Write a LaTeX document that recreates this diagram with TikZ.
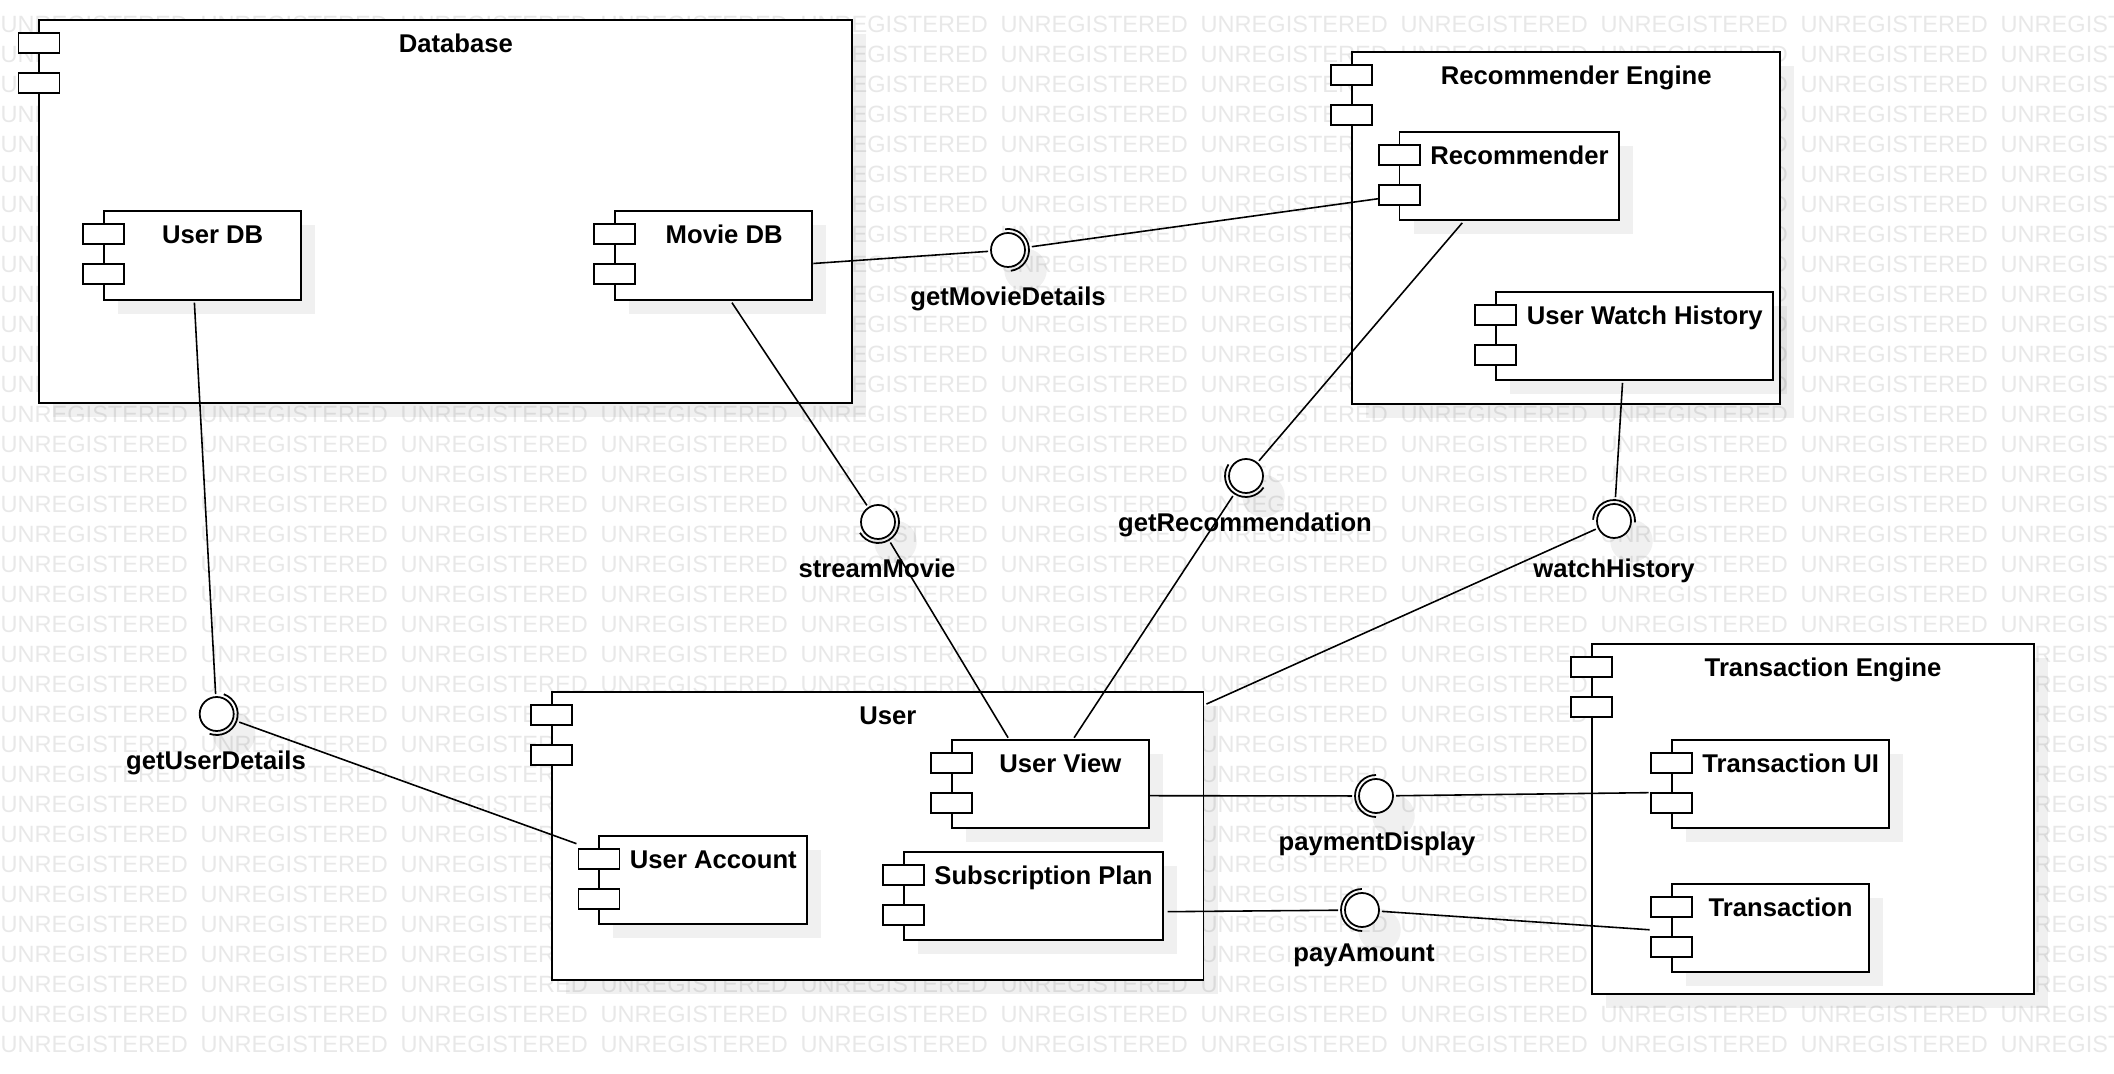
\documentclass[tikz,border=0pt]{standalone}
\usepackage{fontspec}
\setmainfont{Liberation Sans}
\usetikzlibrary{calc}
\usetikzlibrary{shadows}

\pgfdeclarelayer{background}
\pgfsetlayers{background,main}

% component box: name, centre, width, height, title
\newcommand{\umlcomp}[5]{%
  \node[comp, minimum width=#3*0.1mm, minimum height=#4*0.1mm] (#1) at (#2) {};
  \draw[tabbox] ($(#1.north west)+(-20,14)$) rectangle ++(41,20);
  \draw[tabbox] ($(#1.north west)+(-20,54)$) rectangle ++(41,20);
  \node[comptitle] (#1-t) at ($(#1.north)+(10.25,33.5)$) {#5};
}
% socket of an interface, turned towards the part that needs it
\newcommand{\socket}[2]{%
  \draw[sock] let \p1=($(#2)-(#1.center)$), \n1={atan2(\y1,\x1)} in
    ($(#1.center)+(\n1+90:2.1mm)$) arc[start angle=\n1+90, delta angle=-180, radius=2.1mm];%
}

\begin{document}
\begin{tikzpicture}[x=0.1mm, y=-0.1mm,
  comp/.style={draw, fill=white, line width=0.55pt, inner sep=0pt,
    drop shadow={shadow xshift=1.4mm, shadow yshift=-1.4mm, fill=black, opacity=0.06}},
  tabbox/.style={draw, fill=white, line width=0.55pt},
  comptitle/.style={anchor=base, inner sep=0pt, font=\fontsize{7.3}{9}\selectfont\bfseries},
  ball/.style={circle, draw, fill=white, line width=0.5pt, minimum size=3.4mm,
    inner sep=0pt, outer sep=0.3mm,
    drop shadow={shadow xshift=1.4mm, shadow yshift=-1.6mm, shadow scale=1.25, fill=black, opacity=0.06}},
  sock/.style={line width=0.5pt},
  wire/.style={line width=0.45pt},
  iflabel/.style={anchor=base, inner sep=0pt, font=\fontsize{7.3}{9}\selectfont\bfseries},
  wmark/.style={anchor=base west, inner sep=0pt, text=black!9, font=\fontsize{6.7}{8}\selectfont}]

\useasboundingbox (0,0) rectangle (2114,1074);

\begin{pgfonlayer}{background}
  \begin{scope}
    \clip (0,0) rectangle (2114,1074);
    \foreach \row in {0,...,34}
      \foreach \col in {0,...,10}
        \node[wmark] (wm-\row-\col) at (\col*200, 32.5+\row*30) {UNREGISTERED};
  \end{scope}
\end{pgfonlayer}

% containers and their parts
\umlcomp{db}{445.6,211.6}{812.3}{383.3}{Database}
\umlcomp{udb}{202.4,255.5}{197.4}{88.4}{User DB}
\umlcomp{mdb}{713.9,255.5}{197}{88.4}{Movie DB}

\umlcomp{re}{1566,227.8}{428}{351.7}{Recommender Engine}
\umlcomp{rec}{1509.2,175.8}{219.4}{88.3}{Recommender}
\umlcomp{uwh}{1634.5,336}{277}{88}{User Watch History}

\umlcomp{user}{877.6,836}{651.8}{288}{User}
\umlcomp{uv}{1050.1,783.7}{197}{88}{User View}
\umlcomp{ua}{703.1,879.8}{207.3}{88.3}{User Account}
\umlcomp{sp}{1033.2,895.7}{259}{88}{Subscription Plan}

\umlcomp{te}{1812.8,818.8}{442.3}{349.7}{Transaction Engine}
\umlcomp{tui}{1780.4,783.8}{217.6}{88.3}{Transaction UI}
\umlcomp{tx}{1770.3,927.8}{197.4}{87.7}{Transaction}

% interfaces
\node[ball] (gmd) at (1008,250) {};
\node[ball] (sm) at (878,522) {};
\node[ball] (grec) at (1246,476) {};
\node[ball] (wh) at (1614,521) {};
\node[ball] (gud) at (216.7,714) {};
\node[ball] (pd) at (1376,796) {};
\node[ball] (pa) at (1362,910) {};

\node[iflabel] (gmd-l) at (1008,306) {getMovieDetails};
\node[iflabel] (sm-l) at (877,578) {streamMovie};
\node[iflabel] (grec-l) at (1245,532) {getRecommendation};
\node[iflabel] (wh-l) at (1614,578) {watchHistory};
\node[iflabel] (gud-l) at (216,770) {getUserDetails};
\node[iflabel] (pd-l) at (1377,851) {paymentDisplay};
\node[iflabel] (pa-l) at (1364,962) {payAmount};

% where the wires meet the parts
\coordinate (mdb-e) at ($(mdb.east)+(0,8)$);
\coordinate (mdb-s) at ($(mdb.south)+(18,2)$);
\coordinate (udb-s) at ($(udb.south)+(-8,2)$);
\coordinate (rec-w) at ($(rec.north west)+(-20,68)$);
\coordinate (rec-s) at ($(rec.south)+(-47,2)$);
\coordinate (uwh-s) at ($(uwh.south)+(-12,2)$);
\coordinate (user-e) at ($(user.north east)+(2,13)$);
\coordinate (uv-n1) at ($(uv.north)+(-42,-1)$);
\coordinate (uv-n2) at ($(uv.north)+(24,-1)$);
\coordinate (uv-e) at ($(uv.east)+(0,12)$);
\coordinate (ua-w) at ($(ua.north west)+(-22,9)$);
\coordinate (sp-e) at ($(sp.east)+(4,16)$);
\coordinate (tui-w) at ($(tui.north west)+(-22,54)$);
\coordinate (tx-w) at ($(tx.west)+(-21,2)$);

% provided side: wire to the ball
\foreach \att/\ifc in {mdb-e/gmd, mdb-s/sm, rec-s/grec, user-e/wh,
                       udb-s/gud, tui-w/pd, tx-w/pa}
  \draw[wire] (\att) -- (\ifc);

% required side: socket and wire
\foreach \ifc/\att in {gmd/rec-w, sm/uv-n1, grec/uv-n2, wh/uwh-s,
                       gud/ua-w, pd/uv-e, pa/sp-e}{
  \socket{\ifc}{\att}
  \draw[wire] (\att) -- ($(\ifc.center)!2.4mm!(\att)$);
}

\end{tikzpicture}
\end{document}
